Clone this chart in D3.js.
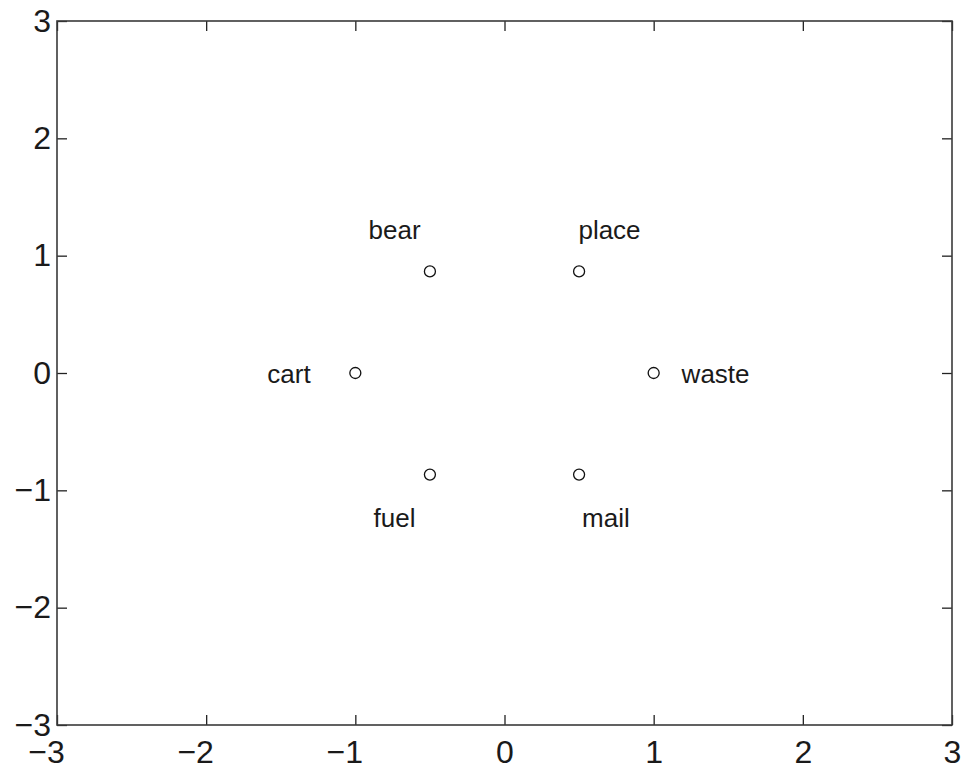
<!DOCTYPE html>
<html>
<head>
<meta charset="utf-8">
<script src="https://cdn.jsdelivr.net/npm/d3@7"></script>
<style>
  html, body { margin: 0; padding: 0; background: #fff; }
  svg { display: block; }
</style>
</head>
<body>
<svg id="chart" width="963" height="772"></svg>
<script>
// ---- data ----
const words = ["waste", "place", "bear", "cart", "fuel", "mail"];
const pointX = [1, 0.5, -0.5, -1, -0.5, 0.5];
const pointY = [0, 0.866, 0.866, 0, -0.866, -0.866];
const labelX = [1.415, 0.704, -0.737, -1.445, -0.737, 0.68];
const labelY = [-0.083, 1.146, 1.142, -0.083, -1.31, -1.31];
const xTicks = [-3, -2, -1, 0, 1, 2, 3];
const yTicks = [-3, -2, -1, 0, 1, 2, 3];
const xDomain = [-3, 3];
const yDomain = [-3, 3];

// ---- layout ----
const mLeft = 57, mRight = 952, mTop = 21, mBottom = 725;
const svg = d3.select("#chart");
const x = d3.scaleLinear().domain(xDomain).range([mLeft, mRight]);
const y = d3.scaleLinear().domain(yDomain).range([mBottom, mTop]);

const axisColor = "#3a3a3a";
const font = "'Liberation Sans', Arial, Helvetica, sans-serif";
const fmt = d3.format("d");

function styleAxis(g, showText) {
  g.select(".domain").remove();
  g.selectAll(".tick line").attr("stroke", "#222").attr("stroke-width", 1.3);
  g.selectAll(".tick text")
    .attr("fill", "#1a1a1a")
    .style("font-family", font)
    .style("font-size", "32px");
  if (!showText) g.selectAll(".tick text").remove();
}

// bottom axis
svg.append("g").attr("transform", `translate(0,${mBottom})`)
  .call(d3.axisBottom(x).tickValues(xTicks).tickFormat(fmt).tickSizeInner(-10).tickSizeOuter(0).tickPadding(15))
  .call(g => styleAxis(g, true))
  .call(g => g.selectAll(".tick text").attr("dx", d => d < 0 ? -11 : 0));
// top axis (ticks only)
svg.append("g").attr("transform", `translate(0,${mTop})`)
  .call(d3.axisTop(x).tickValues(xTicks).tickSizeInner(-10).tickSizeOuter(0).tickFormat(""))
  .call(g => styleAxis(g, false));
// left axis
svg.append("g").attr("transform", `translate(${mLeft},0)`)
  .call(d3.axisLeft(y).tickValues(yTicks).tickFormat(fmt).tickSizeInner(-10).tickSizeOuter(0).tickPadding(6))
  .call(g => styleAxis(g, true));
// right axis (ticks only)
svg.append("g").attr("transform", `translate(${mRight},0)`)
  .call(d3.axisRight(y).tickValues(yTicks).tickSizeInner(-10).tickSizeOuter(0).tickFormat(""))
  .call(g => styleAxis(g, false));

// box
svg.append("rect")
  .attr("x", x(xDomain[0])).attr("y", y(yDomain[1]))
  .attr("width", x(xDomain[1]) - x(xDomain[0]))
  .attr("height", y(yDomain[0]) - y(yDomain[1]))
  .attr("fill", "none").attr("stroke", axisColor).attr("stroke-width", 1.6);

const data = words.map((w, i) => ({ w, px: pointX[i], py: pointY[i], lx: labelX[i], ly: labelY[i] }));

// markers
svg.append("g").selectAll("circle").data(data).enter().append("circle")
  .attr("cx", d => x(d.px)).attr("cy", d => y(d.py)).attr("r", 5.5)
  .attr("fill", "none").attr("stroke", "#111").attr("stroke-width", 1.3);

// labels
svg.append("g").selectAll("text").data(data).enter().append("text")
  .attr("x", d => x(d.lx)).attr("y", d => y(d.ly))
  .attr("text-anchor", "middle")
  .attr("fill", "#1a1a1a")
  .style("font-family", font)
  .style("font-size", "26px")
  .text(d => d.w);
</script>
</body>
</html>
